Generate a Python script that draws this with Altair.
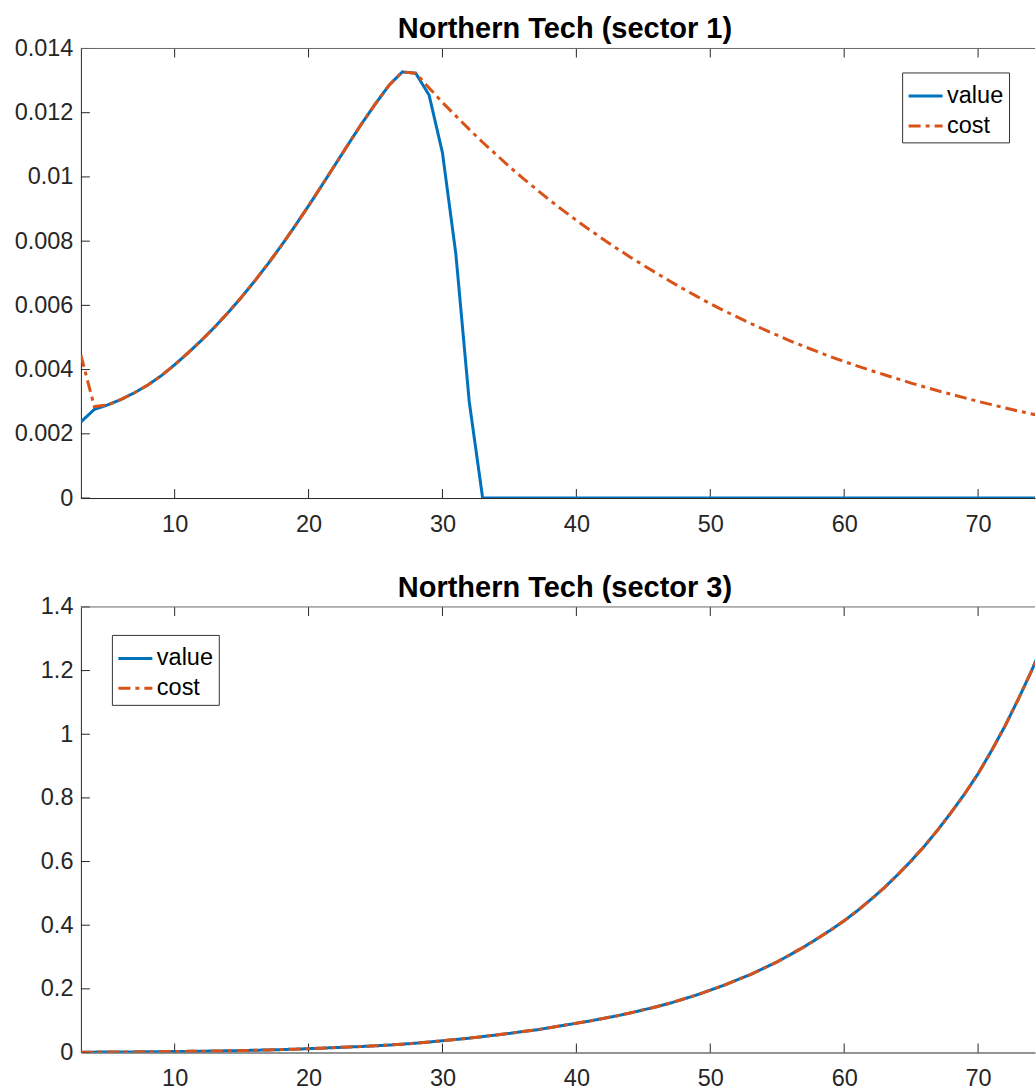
import altair as alt
import pandas as pd

# ---------------- data ----------------
X = list(range(3, 76))
SERIES = ["value", "cost"]
TITLES = ["Northern Tech (sector 1)", "Northern Tech (sector 3)"]
X_TICKS = [10, 20, 30, 40, 50, 60, 70]
S1_Y_TICKS = [0, 0.002, 0.004, 0.006, 0.008, 0.01, 0.012, 0.014]
S3_Y_TICKS = [0, 0.2, 0.4, 0.6, 0.8, 1.0, 1.2, 1.4]

S1_VALUE = [0.00237, 0.00276, 0.00290, 0.00307, 0.00328, 0.00352, 0.00381, 0.00415,
            0.00452, 0.00491, 0.00533, 0.00578, 0.00626, 0.00677, 0.00731, 0.00788,
            0.00848, 0.00910, 0.00974, 0.01039, 0.01104, 0.01168, 0.01228, 0.01285,
            0.01327, 0.01323, 0.01255, 0.01075, 0.00760, 0.00300,
            0, 0, 0, 0, 0, 0, 0, 0, 0, 0, 0, 0, 0, 0, 0, 0, 0, 0, 0, 0, 0, 0,
            0, 0, 0, 0, 0, 0, 0, 0, 0, 0, 0, 0, 0, 0, 0, 0, 0, 0, 0, 0, 0]

S1_COST = [0.00445, 0.00285, 0.00290, 0.00307, 0.00328, 0.00352, 0.00381, 0.00415,
           0.00452, 0.00491, 0.00533, 0.00578, 0.00626, 0.00677, 0.00731, 0.00788,
           0.00848, 0.00910, 0.00974, 0.01039, 0.01104, 0.01168, 0.01228, 0.01285,
           0.01327, 0.01323,
           0.01277, 0.01232, 0.01190, 0.01148, 0.01108, 0.01070, 0.01032, 0.00996,
           0.00962, 0.00928, 0.00896, 0.00865, 0.00835, 0.00806, 0.00778, 0.00751,
           0.00725, 0.00700, 0.00675, 0.00651, 0.00628, 0.00605, 0.00584, 0.00564,
           0.00544, 0.00525, 0.00507, 0.00489, 0.00472, 0.00456, 0.00440, 0.00425,
           0.00411, 0.00397, 0.00384, 0.00371, 0.00358, 0.00346, 0.00334, 0.00323,
           0.00312, 0.00301, 0.00291, 0.00281, 0.00271, 0.00262, 0.00253]

S3_VALUE = [0.0010, 0.0012, 0.0014, 0.0017, 0.0020, 0.0023, 0.0027, 0.0031, 0.0036,
            0.0041, 0.0047, 0.0054, 0.0062, 0.0071, 0.0081, 0.0092, 0.0105, 0.0120,
            0.0137, 0.0155, 0.0172, 0.0190, 0.0210, 0.0234, 0.0262, 0.0293, 0.0330,
            0.0370, 0.041, 0.045, 0.050, 0.055, 0.060, 0.066, 0.071, 0.078, 0.085,
            0.092, 0.099, 0.107, 0.115, 0.124, 0.134, 0.144, 0.155, 0.168, 0.181,
            0.196, 0.211, 0.228, 0.245, 0.265, 0.285, 0.308, 0.332, 0.358, 0.385,
            0.414, 0.446, 0.481, 0.518, 0.559, 0.602, 0.649, 0.700, 0.755, 0.813,
            0.876, 0.948, 1.025, 1.110, 1.200, 1.300]
S3_COST = list(S3_VALUE)

# ---------------- styling ----------------
BLUE = "#0072BD"
ORANGE = "#D95319"
FONT = "Liberation Sans"
AXIS_COLOR = "#262626"
W = 955
X_MIN, X_MAX = 3, 74.25
TICK_LEN = 9
LABEL_SIZE = 23.5


def panel(values, costs, yticks, ymax, title, lx, ly, h):
    df = pd.DataFrame({
        "x": X + X,
        "v": values + costs,
        "series": ["value"] * len(X) + ["cost"] * len(X),
    })
    xs = alt.Scale(domain=[X_MIN, X_MAX], nice=False, zero=False)
    ys = alt.Scale(domain=[0, ymax], nice=False, zero=False)
    x_axis = alt.Axis(values=X_TICKS, title=None, ticks=False, tickSize=0, grid=False,
                      domain=True, domainColor=AXIS_COLOR, domainWidth=1,
                      labelFont=FONT, labelFontSize=LABEL_SIZE, labelColor=AXIS_COLOR,
                      labelPadding=14, format="d", labelFlush=False)
    y_axis = alt.Axis(values=yticks, title=None, ticks=False, tickSize=0, grid=False,
                      domain=True, domainColor=AXIS_COLOR, domainWidth=1,
                      labelFont=FONT, labelFontSize=LABEL_SIZE, labelColor=AXIS_COLOR,
                      labelPadding=8, format="~g", labelFlush=False)
    x_enc = alt.X("x:Q", scale=xs, axis=x_axis)
    y_enc = alt.Y("v:Q", scale=ys, axis=y_axis)
    leg = alt.Legend(title=None, orient="none", legendX=lx, legendY=ly,
                     direction="vertical", fillColor="white", strokeColor="#333333",
                     padding=5, symbolType="stroke", symbolSize=1156,
                     symbolStrokeWidth=3, labelFont=FONT, labelFontSize=LABEL_SIZE,
                     labelColor="black", rowPadding=-4, labelOffset=3)
    color = alt.Color("series:N", scale=alt.Scale(domain=SERIES, range=[BLUE, ORANGE]),
                      legend=leg)
    dash = alt.StrokeDash("series:N",
                          scale=alt.Scale(domain=SERIES, range=[[1, 0], [12, 5, 4, 5]]),
                          legend=leg)
    base = alt.Chart(df).encode(x=x_enc, y=y_enc, color=color, strokeDash=dash)
    l_value = base.transform_filter(alt.datum.series == "value").mark_line(
        strokeWidth=3, clip=True)
    l_cost = base.transform_filter(alt.datum.series == "cost").mark_line(
        strokeWidth=3, clip=True)

    xt = pd.DataFrame({"x": X_TICKS})
    yt = pd.DataFrame({"v": yticks})
    tick_b = alt.Chart(xt).mark_rule(color=AXIS_COLOR, strokeWidth=1).encode(
        x=x_enc, y=alt.value(h), y2=alt.value(h - TICK_LEN))
    tick_t = alt.Chart(xt).mark_rule(color=AXIS_COLOR, strokeWidth=1).encode(
        x=x_enc, y=alt.value(0), y2=alt.value(TICK_LEN))
    tick_l = alt.Chart(yt).mark_rule(color=AXIS_COLOR, strokeWidth=1).encode(
        y=y_enc, x=alt.value(0), x2=alt.value(TICK_LEN))
    border = alt.Chart(pd.DataFrame({"x": [X_MIN]})).mark_rule(
        color="#666666", strokeWidth=1).encode(
        x=alt.value(0), x2=alt.value(W), y=alt.value(0))

    return alt.layer(tick_b, tick_t, tick_l, border, l_value, l_cost).properties(
        width=W, height=h,
        title=alt.TitleParams(title, anchor="middle", dx=7, dy=12, offset=4, font=FONT,
                              fontSize=29, fontWeight="bold", color="black"),
    )


top = panel(S1_VALUE, S1_COST, S1_Y_TICKS, 0.014, TITLES[0], 822, 24, 450)
bottom = panel(S3_VALUE, S3_COST, S3_Y_TICKS, 1.4, TITLES[1], 31, 28, 446)

chart = alt.vconcat(top, bottom, spacing=109, bounds="flush").resolve_scale(
    x="independent", y="independent", color="independent", strokeDash="independent"
).resolve_legend(color="independent", strokeDash="independent").properties(
    padding={"left": 14, "top": 15, "right": 0, "bottom": 0},
    background="white",
).configure_view(stroke=None)

chart.save("out.html", embed_options={"renderer": "svg", "actions": False})
